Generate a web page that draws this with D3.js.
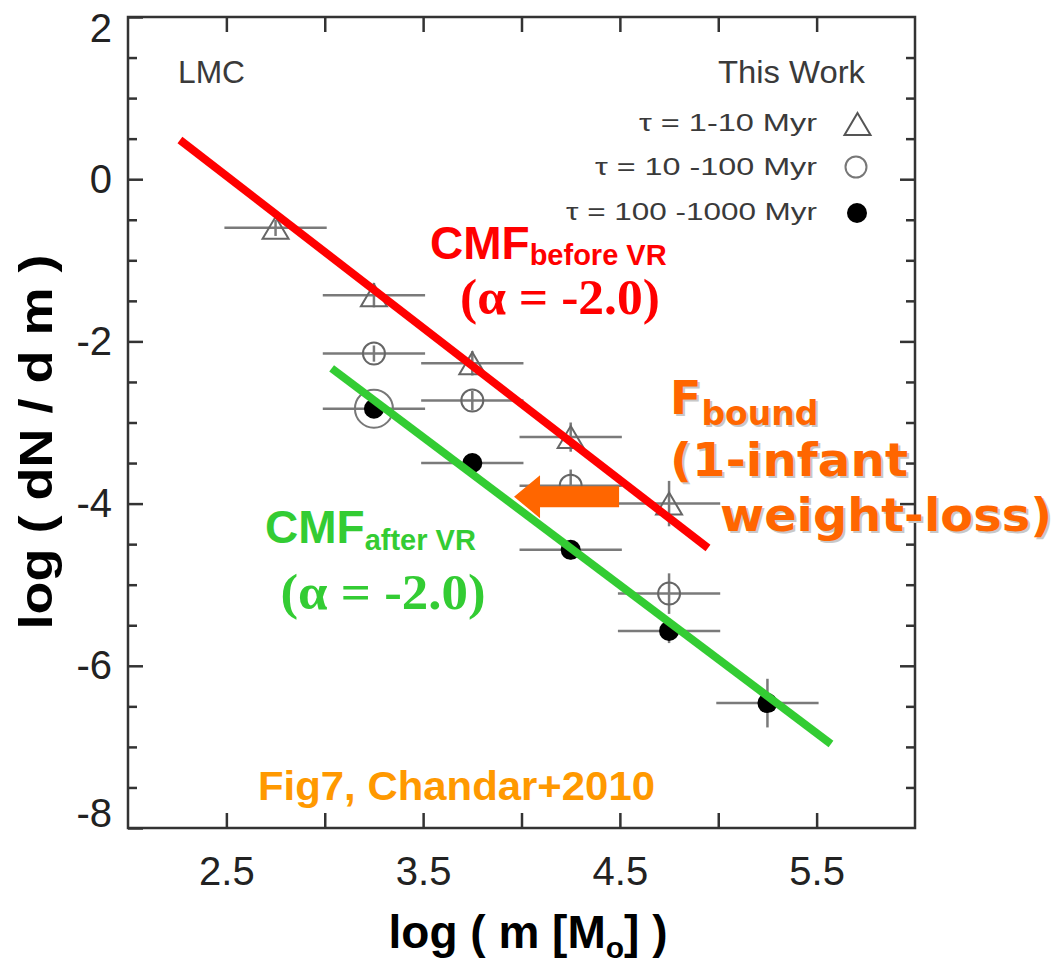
<!DOCTYPE html>
<html><head><meta charset="utf-8">
<script src="https://cdn.jsdelivr.net/npm/d3@7"></script>
<style>body{margin:0;background:#fff} svg{display:block}</style>
</head><body><svg id="c" width="1057" height="963"></svg>
<script>
// ---- data ----
const xTickValues = [2.5, 3.0, 3.5, 4.0, 4.5, 5.0, 5.5];
const xTickLabels = [2.5, 3.5, 4.5, 5.5];
const yMinorTicks = [1.5, 1, 0.5, -0.5, -1, -1.5, -2.5, -3, -3.5, -4.5, -5, -5.5, -6.5, -7, -7.5];
const yMajorTicks = [2, 0, -2, -4, -6, -8];
const triX = [2.75, 3.25, 3.75, 4.25, 4.75];
const triY = [-0.6, -1.43, -2.27, -3.18, -4.0];
const triErr = [0.1, 0.15, 0.15, 0.18, 0.28];
const openX = [3.25, 3.75, 4.25, 4.75];
const openY = [-2.15, -2.73, -3.78, -5.11];
const openErr = [0.1, 0.12, 0.2, 0.25];
const fillX = [3.25, 3.75, 4.25, 4.75, 5.25];
const fillY = [-2.83, -3.5, -4.57, -5.57, -6.46];
const fillErr = [0.1, 0.1, 0.12, 0.15, 0.3];
const bigCircleX = [3.25];
const bigCircleY = [-2.83];
const binHalfWidth = 0.26;
const redLineX = [2.264, 4.948];
const redLineY = [0.483, -4.547];
const greenLineX = [3.035, 5.573];
const greenLineY = [-2.332, -6.964];
const arrowX = [4.496, 3.962];   // tail, tip
const arrowY = [-3.915];
const legendLabels = ["τ = 1-10 Myr", "τ = 10 -100 Myr", "τ = 100 -1000 Myr"];

// ---- setup ----
const svg = d3.select("#c");
const x = d3.scaleLinear().domain([2, 6]).range([128, 915]);
const y = d3.scaleLinear().domain([-8, 2]).range([828, 17]);
const axisColor = "#333";

// frame
svg.append("rect").attr("x", x(2)).attr("y", y(2)).attr("width", x(6) - x(2)).attr("height", y(-8) - y(2))
  .attr("fill", "none").attr("stroke", axisColor).attr("stroke-width", 2.5);

function styleAxis(g) {
  g.select(".domain").remove();
  g.selectAll(".tick line").attr("stroke", axisColor).attr("stroke-width", 2.5);
  g.selectAll(".tick text").attr("fill", "#222").style("font-family", "Liberation Sans, Arial, sans-serif").style("font-size", "40px");
}
// bottom
svg.append("g").attr("transform", `translate(0,${y(-8)})`)
  .call(d3.axisBottom(x).tickValues(xTickValues).tickSize(-15).tickPadding(29)
    .tickFormat(d => xTickLabels.includes(d) ? d3.format(".1f")(d) : ""))
  .call(styleAxis);
// top
svg.append("g").attr("transform", `translate(0,${y(2)})`)
  .call(d3.axisTop(x).tickValues(xTickValues).tickSize(-15).tickFormat(""))
  .call(styleAxis);
// left
svg.append("g").attr("transform", `translate(${x(2)},0)`)
  .call(d3.axisLeft(y).tickValues(yMinorTicks).tickSize(-9).tickFormat(""))
  .call(styleAxis);
const leftMajor = svg.append("g").attr("transform", `translate(${x(2)},0)`)
  .call(d3.axisLeft(y).tickValues(yMajorTicks).tickSize(-15).tickPadding(16).tickFormat(d => String(d)))
  .call(styleAxis);
// end labels sit slightly inside the frame, as in the reference
leftMajor.selectAll(".tick text").attr("dy", (d, i, n) => i === 0 ? "0.6em" : (i === n.length - 1 ? "-0.05em" : "0.32em"));
// right
svg.append("g").attr("transform", `translate(${x(6)},0)`)
  .call(d3.axisRight(y).tickValues(yMinorTicks).tickSize(-9).tickFormat(""))
  .call(styleAxis);
svg.append("g").attr("transform", `translate(${x(6)},0)`)
  .call(d3.axisRight(y).tickValues(yMajorTicks.slice(1, -1)).tickSize(-15).tickFormat(""))
  .call(styleAxis);

// ---- error bars ----
const errColor = "#7a7a7a";
function errorBars(xs, ys, es) {
  const g = svg.append("g").attr("stroke", errColor).attr("stroke-width", 2.5);
  xs.forEach((xv, i) => {
    g.append("line").attr("x1", x(xv - binHalfWidth)).attr("x2", x(xv + binHalfWidth))
      .attr("y1", y(ys[i])).attr("y2", y(ys[i]));
    g.append("line").attr("x1", x(xv)).attr("x2", x(xv))
      .attr("y1", y(ys[i] - es[i])).attr("y2", y(ys[i] + es[i]));
  });
}
errorBars(triX, triY, triErr);
errorBars(openX, openY, openErr);
errorBars(fillX, fillY, fillErr);

// ---- markers ----
function triPath(cx, cy) {
  const w = 26, h = 22;
  return `M${cx},${cy - h / 2}L${cx + w / 2},${cy + h / 2}L${cx - w / 2},${cy + h / 2}Z`;
}
svg.append("g").selectAll("path").data(triX).join("path")
  .attr("d", (d, i) => triPath(x(d), y(triY[i])))
  .attr("fill", "none").attr("stroke", "#666").attr("stroke-width", 2);
svg.append("g").selectAll("circle").data(openX).join("circle")
  .attr("cx", d => x(d)).attr("cy", (d, i) => y(openY[i])).attr("r", 11)
  .attr("fill", "none").attr("stroke", "#666").attr("stroke-width", 2);
svg.append("g").selectAll("circle").data(bigCircleX).join("circle")
  .attr("cx", d => x(d)).attr("cy", (d, i) => y(bigCircleY[i])).attr("r", 19)
  .attr("fill", "none").attr("stroke", "#777").attr("stroke-width", 2);
svg.append("g").selectAll("circle").data(fillX).join("circle")
  .attr("cx", d => x(d)).attr("cy", (d, i) => y(fillY[i])).attr("r", 10)
  .attr("fill", "#000");

// ---- fit lines ----
const line = d3.line().x(d => x(d[0])).y(d => y(d[1]));
svg.append("path").attr("d", line(redLineX.map((v, i) => [v, redLineY[i]])))
  .attr("stroke", "#ff0000").attr("stroke-width", 8).attr("fill", "none");
svg.append("path").attr("d", line(greenLineX.map((v, i) => [v, greenLineY[i]])))
  .attr("stroke", "#33cc33").attr("stroke-width", 8).attr("fill", "none");

// ---- arrow ----
{
  const tx = x(arrowX[0]), hx = x(arrowX[1]), ay = y(arrowY[0]);
  const headLen = 26, headH = 43, shaftH = 21;
  svg.append("path")
    .attr("d", `M${hx},${ay}L${hx + headLen},${ay - headH / 2}L${hx + headLen},${ay - shaftH / 2}L${tx},${ay - shaftH / 2}L${tx},${ay + shaftH / 2}L${hx + headLen},${ay + shaftH / 2}L${hx + headLen},${ay + headH / 2}Z`)
    .attr("fill", "#ff6600");
}

// ---- text ----
const sans = "Liberation Sans, Arial, Helvetica, sans-serif";
const serif = "Liberation Serif, Times New Roman, serif";
const verd = "DejaVu Sans, Verdana, sans-serif";

function txt(s, px, py, opts = {}) {
  const t = svg.append("text").attr("x", px).attr("y", py)
    .style("font-family", opts.family || sans)
    .style("font-size", (opts.size || 30) + "px")
    .style("font-weight", opts.weight || "normal")
    .attr("fill", opts.fill || "#333")
    .attr("text-anchor", opts.anchor || "start")
    .text(s);
  if (opts.len) t.attr("textLength", opts.len).attr("lengthAdjust", "spacingAndGlyphs");
  return t;
}

txt("LMC", 178, 83, { size: 31, fill: "#3a3a3a", len: 67 });
txt("This Work", 865, 83, { size: 31, fill: "#3a3a3a", anchor: "end", len: 147 });
const legY = [131, 175, 220];
txt(legendLabels[0], 817, legY[0], { size: 24, fill: "#3a3a3a", anchor: "end", len: 178 });
txt(legendLabels[1], 817, legY[1], { size: 24, fill: "#3a3a3a", anchor: "end", len: 222 });
txt(legendLabels[2], 817, legY[2], { size: 24, fill: "#3a3a3a", anchor: "end", len: 251 });
svg.append("path").attr("d", triPath(857.5, 124)).attr("fill", "none").attr("stroke", "#555").attr("stroke-width", 2);
svg.append("circle").attr("cx", 856).attr("cy", 167).attr("r", 10.5).attr("fill", "none").attr("stroke", "#777").attr("stroke-width", 2);
svg.append("circle").attr("cx", 857).attr("cy", 213).attr("r", 10).attr("fill", "#000");

// CMF before VR
{
  const t = svg.append("text").attr("x", 430).attr("y", 259).attr("fill", "#ff0000")
    .style("font-family", sans).style("font-weight", "bold");
  t.append("tspan").style("font-size", "46px").text("CMF");
  t.append("tspan").style("font-size", "29px").attr("dy", 6).text("before VR");
}
txt("(α = -2.0)", 560, 314, { family: serif, size: 50, weight: "bold", fill: "#ff0000", anchor: "middle", len: 200 });

// CMF after VR
{
  const t = svg.append("text").attr("x", 265).attr("y", 543).attr("fill", "#33cc33")
    .style("font-family", sans).style("font-weight", "bold");
  t.append("tspan").style("font-size", "46px").text("CMF");
  t.append("tspan").style("font-size", "29px").attr("dy", 7).text("after VR");
}
txt("(α = -2.0)", 383, 609, { family: serif, size: 50, weight: "bold", fill: "#33cc33", anchor: "middle", len: 205 });

// F bound (with shadow)
function fbound(dx, dy, color) {
  const t = svg.append("text").attr("x", 670 + dx).attr("y", 414 + dy).attr("fill", color)
    .style("font-family", verd).style("font-weight", "bold");
  t.append("tspan").style("font-size", "46px").text("F");
  t.append("tspan").style("font-size", "33px").attr("dy", 11).text("bound");
  txt("(1-infant", 670 + dx, 476 + dy, { family: verd, size: 47, weight: "bold", fill: color, len: 238 });
  txt("weight-loss)", 720 + dx, 531 + dy, { family: verd, size: 47, weight: "bold", fill: color, len: 332 });
}
fbound(2, 2, "#c8c8c8");
fbound(0, 0, "#ff6600");

txt("Fig7, Chandar+2010", 258, 800, { size: 41, weight: "bold", fill: "#ff9900", len: 397 });

// axis titles
txt("log ( dN / d m )", 0, 0, { size: 46, weight: "bold", fill: "#000", anchor: "middle", len: 375 })
  .attr("transform", "translate(52,442) rotate(-90)");
{
  const t = svg.append("text").attr("x", 528).attr("y", 948).attr("text-anchor", "middle").attr("fill", "#000")
    .style("font-family", sans).style("font-weight", "bold").style("font-size", "46px");
  t.append("tspan").text("log ( m [M");
  t.append("tspan").style("font-size", "30px").attr("dy", 10).text("o");
  t.append("tspan").attr("dy", -10).text("] )");
}
</script></body></html>
